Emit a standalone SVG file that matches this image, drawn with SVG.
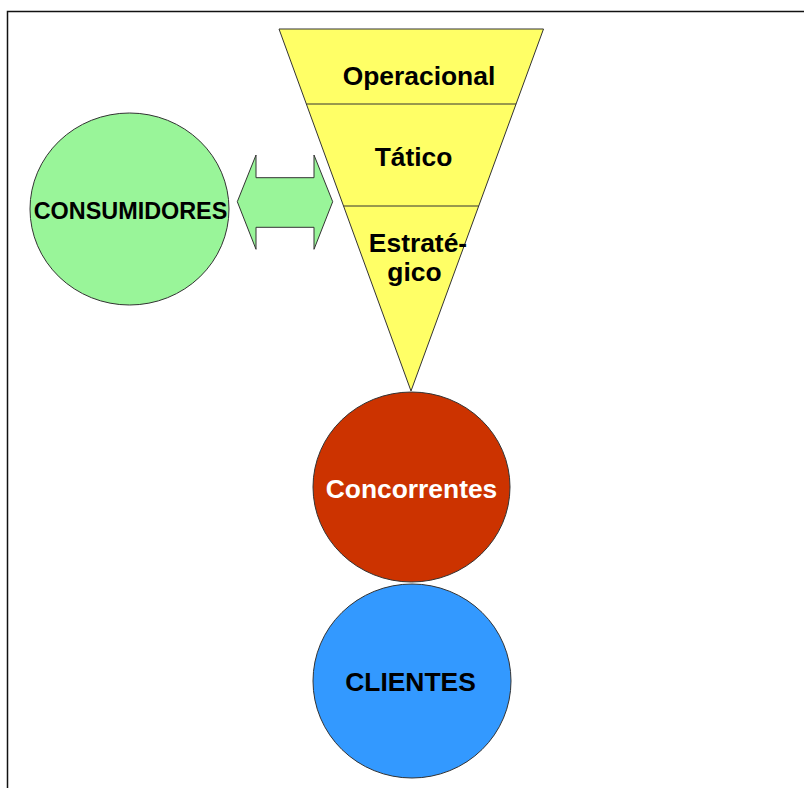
<svg xmlns="http://www.w3.org/2000/svg" width="804" height="788" viewBox="0 0 804 788">
  <style>
    .shape { stroke: #333; stroke-width: 1; }
    .label { font-family: "Liberation Sans", Arial, sans-serif; font-weight: bold; text-anchor: middle; fill: #000; font-size: 26.4px; }
  </style>
  <rect width="804" height="788" fill="#fff"/>
  <!-- page frame -->
  <rect x="7.5" y="11.5" width="820" height="820" fill="none" stroke="#111" stroke-width="1.5"/>

  <!-- inverted funnel with three levels -->
  <g id="funil">
    <polygon class="shape" points="279,29 543.5,29 411,391" fill="#FFFF66"/>
    <line class="shape" x1="306.4" y1="104" x2="516.1" y2="104"/>
    <line class="shape" x1="343.6" y1="206" x2="478.8" y2="206"/>
    <text class="label" x="419" y="85">Operacional</text>
    <text class="label" x="413.5" y="166">Tático</text>
    <text class="label" x="418" y="252">Estraté-</text>
    <text class="label" x="414.5" y="281">gico</text>
  </g>

  <g id="consumidores">
    <ellipse class="shape" cx="129.5" cy="209" rx="99.5" ry="96" fill="#99F599"/>
    <text class="label" x="130.5" y="218.5" style="font-size:23.4px">CONSUMIDORES</text>
  </g>

  <g id="concorrentes">
    <ellipse class="shape" cx="411.5" cy="487" rx="98.5" ry="95" fill="#CC3300"/>
    <text class="label" x="411.5" y="498" style="fill:#fff">Concorrentes</text>
  </g>

  <g id="clientes">
    <ellipse class="shape" cx="412" cy="681" rx="99" ry="97" fill="#3399FF"/>
    <text class="label" x="410.5" y="691">CLIENTES</text>
  </g>

  <!-- two-way link between consumers and the funnel -->
  <g id="conectores">
    <polygon class="shape" fill="#99F599"
      points="237.3,201.7 256,155 256,177.7 314,177.7 314,155 332.7,201.7 314,249.3 314,227.3 256,227.3 256,249.3"/>
  </g>
</svg>
